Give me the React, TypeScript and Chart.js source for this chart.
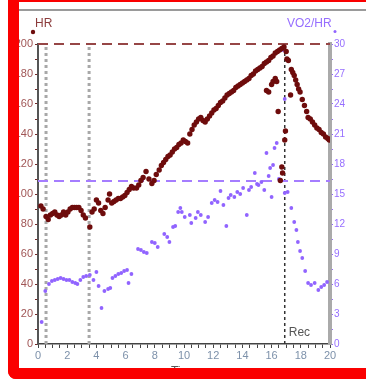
import React, { useEffect, useRef } from "react";
import { Chart, registerables } from "chart.js";

Chart.register(...registerables);

// Heart rate (bpm) over time (min)
const hrTimes = [
  0.2, 0.35, 0.55, 0.7, 0.85, 1.0, 1.15, 1.3, 1.45, 1.6, 1.75, 1.9, 2.05, 2.2, 2.35, 2.5, 2.65, 2.8, 2.95, 3.1,
  3.25, 3.55, 3.7, 3.85, 4.0, 4.15, 4.3, 4.45, 4.6, 4.8, 4.9, 5.05, 5.2, 5.35, 5.5, 5.65, 5.8, 5.95, 6.1, 6.25,
  6.4, 6.55, 6.75, 6.9, 7.05, 7.2, 7.4, 7.6, 7.8, 7.95, 8.1, 8.3, 8.45, 8.6, 8.75, 8.9, 9.05, 9.2, 9.35, 9.5,
  9.65, 9.8, 9.95, 10.1, 10.25, 10.4, 10.55, 10.7, 10.85, 11.0, 11.15, 11.3, 11.45, 11.6, 11.75, 11.9, 12.05, 12.2, 12.35, 12.5,
  12.65, 12.8, 12.95, 13.1, 13.25, 13.4, 13.55, 13.7, 13.85, 14.0, 14.15, 14.3, 14.45, 14.6, 14.75, 14.9, 15.05, 15.2, 15.35, 15.5,
  15.65, 15.8, 15.95, 16.1, 16.25, 16.4, 16.55, 16.7, 16.85,
  15.65, 15.8, 16.0, 16.1, 16.25, 16.35, 16.45, 16.6, 16.7, 16.75, 16.9, 16.95, 17.0, 17.05, 17.15, 17.3,
  17.35, 17.45, 17.55, 17.65, 17.75, 17.85, 17.95, 18.1, 18.25, 18.4, 18.5, 18.65, 18.8, 18.95, 19.1, 19.25, 19.4, 19.55, 19.7, 19.85, 19.95,
];
const hrValues = [
  92, 90, 85, 83, 86, 87, 88, 86, 85, 86, 88, 86, 88, 90, 91, 91, 91, 91, 89, 86,
  84, 78, 88, 90, 96, 94, 89, 87, 91, 96, 100, 94, 95, 96, 97, 97, 98, 99, 101, 103,
  105, 104, 104, 106, 109, 111, 115, 110, 107, 109, 113, 116, 119, 121, 123, 125, 126, 128, 130, 131,
  133, 134, 136, 135, 134, 140, 143, 146, 148, 150, 151, 149, 148, 150, 152, 154, 156, 157, 159, 161,
  162, 164, 166, 167, 168, 169, 171, 172, 173, 174, 175, 176, 177, 179, 180, 182, 183, 184, 185, 187,
  188, 189, 191, 192, 194, 195, 196, 197, 198,
  169, 168, 173, 175, 177, 175, 155, 109, 118, 114, 136, 142, 195, 190, 189, 166,
  183, 181, 179, 176, 173, 170, 168, 163, 159, 155, 151, 150, 148, 146, 144, 143, 141, 140, 138, 137, 136,
];

// Oxygen pulse VO2/HR (ml/beat) over time (min)
const o2Times = [
  0.25, 0.5, 0.75, 0.95, 1.15, 1.35, 1.55, 1.75, 1.95, 2.15, 2.35, 2.55, 2.7, 2.9, 3.1, 3.3, 3.55, 3.8, 4.0, 4.15,
  4.35, 4.55, 4.8, 4.95, 5.1, 5.3, 5.5, 5.7, 5.9, 6.1, 6.2, 6.4, 6.85, 7.05, 7.25, 7.45, 7.8, 8.0, 8.2, 8.65,
  8.85, 9.0, 9.25, 9.4, 9.6, 9.75, 9.85, 10.05, 10.4, 10.5, 10.8, 10.95, 11.15, 11.45, 11.65, 11.9, 12.1, 12.3, 12.5, 12.7,
  12.9, 13.05, 13.2, 13.45, 13.65, 13.85, 14.05, 14.3, 14.45, 14.6, 14.85, 15.0, 15.1, 15.3, 15.5, 15.65, 15.8, 15.9, 16.0, 16.1,
  16.2, 16.35, 16.5, 16.8, 16.9, 16.9, 17.1, 17.35, 17.55, 17.7, 17.8, 17.95, 18.1, 18.3, 18.5, 18.7, 18.95, 19.2, 19.4, 19.6, 19.8,
];
const o2Values = [
  2.2, 5.3, 6.0, 6.3, 6.4, 6.5, 6.6, 6.5, 6.4, 6.4, 6.2, 6.1, 6.0, 6.4, 6.7, 6.8, 6.9, 6.4, 7.2, 5.8,
  3.6, 5.3, 5.5, 5.6, 6.6, 6.8, 7.0, 7.1, 7.3, 7.4, 6.1, 7.0, 9.5, 9.4, 9.2, 9.1, 10.2, 10.1, 9.7, 11.0,
  10.7, 10.2, 11.7, 11.8, 13.2, 13.6, 13.2, 12.7, 12.9, 12.1, 12.6, 13.2, 12.9, 12.2, 12.7, 14.1, 14.4, 14.2, 15.3, 13.9,
  11.8, 14.6, 14.9, 14.7, 15.2, 15.0, 15.6, 12.9, 15.4, 15.7, 17.1, 16.0, 15.9, 16.2, 15.4, 19.1, 16.8, 17.6, 14.7, 17.9,
  19.6, 20.1, 16.5, 29.4, 24.5, 15.1, 15.2, 13.6, 12.2, 11.4, 10.2, 9.3, 8.6, 7.3, 6.1, 5.9, 6.1, 5.4, 5.7, 5.9, 6.2,
];

// Reference values
const hrPredMax = 200;
const o2PulsePred = 16.3;
const phaseTimes = [0.55, 3.5];
const recoveryTime = 16.9;

const xMin = 0, xMax = 20;
const hrMin = 0, hrMax = 200;
const o2Min = 0, o2Max = 30;

const FONT = "'Liberation Sans', Arial, sans-serif";
const MAROON = "rgb(110,12,12)";
const PURPLE = "rgb(145,100,255)";

export default function App() {
  const ref = useRef<HTMLCanvasElement | null>(null);

  useEffect(() => {
    document.body.style.margin = "0";
    const canvas = ref.current;
    if (!canvas) return;

    const labelsPlugin = {
      id: "labels",
      afterDraw(chart: any) {
        const ctx = chart.ctx;
        const xs = chart.scales.x;
        const ys = chart.scales.y;
        ctx.save();
        ctx.font = `12px ${FONT}`;
        ctx.textBaseline = "alphabetic";
        ctx.textAlign = "left";
        ctx.fillStyle = "rgb(140,60,60)";
        ctx.fillText("HR", 35, 27);
        ctx.fillStyle = "rgb(150,110,255)";
        ctx.fillText("VO2/HR", 287, 27);
        ctx.fillStyle = MAROON;
        ctx.beginPath();
        ctx.arc(33, 32, 2.2, 0, Math.PI * 2);
        ctx.fill();
        ctx.fillStyle = PURPLE;
        ctx.beginPath();
        ctx.arc(335, 31.5, 1.5, 0, Math.PI * 2);
        ctx.fill();
        // Recovery label
        ctx.fillStyle = "#555";
        ctx.fillText("Rec", xs.getPixelForValue(recoveryTime) + 4, ys.getPixelForValue(hrMin) - 8);
        // x title (mostly hidden behind the frame)
        ctx.textAlign = "center";
        ctx.textBaseline = "top";
        ctx.fillStyle = "#555";
        ctx.fillText("Time", (chart.chartArea.left + chart.chartArea.right) / 2, 366);
        ctx.restore();
      },
    };

    const vline = (t: number, color: string, width: number, dash: number[]) => ({
      type: "line" as const,
      data: [
        { x: t, y: hrMin },
        { x: t, y: hrMax },
      ],
      yAxisID: "y",
      borderColor: color,
      borderWidth: width,
      borderDash: dash,
      pointRadius: 0,
      showLine: true,
      fill: false,
      clip: false as any,
    });

    const chart = new Chart(canvas, {
      type: "scatter",
      data: {
        datasets: [
          {
            label: "HR",
            data: hrTimes.map((t, i) => ({ x: t, y: hrValues[i] })),
            yAxisID: "y",
            backgroundColor: MAROON,
            borderColor: MAROON,
            pointRadius: 2.7,
            pointBorderWidth: 0,
          },
          {
            label: "VO2/HR",
            data: o2Times.map((t, i) => ({ x: t, y: o2Values[i] })),
            yAxisID: "y2",
            backgroundColor: PURPLE,
            borderColor: PURPLE,
            pointRadius: 1.9,
            pointBorderWidth: 0,
          },
          {
            type: "line",
            data: [
              { x: xMin, y: hrPredMax },
              { x: xMax, y: hrPredMax },
            ],
            yAxisID: "y",
            borderColor: "rgb(150,70,70)",
            borderWidth: 2,
            borderDash: [10, 6],
            pointRadius: 0,
            showLine: true,
            clip: false as any,
          } as any,
          {
            type: "line",
            data: [
              { x: xMin, y: o2PulsePred },
              { x: xMax, y: o2PulsePred },
            ],
            yAxisID: "y2",
            borderColor: "rgb(165,125,255)",
            borderWidth: 2,
            borderDash: [10, 6],
            pointRadius: 0,
            showLine: true,
          } as any,
          ...phaseTimes.map((t) => vline(t, "#a8a8a8", 3, [3, 3]) as any),
          vline(recoveryTime, "#333", 1.5, [3, 3]) as any,
        ],
      },
      options: {
        responsive: false,
        animation: false,
        devicePixelRatio: 1,
        layout: { padding: { top: 44, left: 0, right: 0, bottom: 0 } },
        plugins: { legend: { display: false }, tooltip: { enabled: false }, title: { display: false } },
        scales: {
          x: {
            type: "linear",
            min: xMin,
            max: xMax,
            afterFit: (s: any) => {
              s.height = 37;
            },
            ticks: {
              stepSize: 0.5,
              autoSkip: false,
              maxRotation: 0,
              padding: 1,
              color: "rgb(125,145,170)",
              font: { family: FONT, size: 11 },
              callback: (v: any) => (Number(v) % 2 === 0 ? String(v) : ""),
            },
            grid: { drawOnChartArea: false, tickLength: 4, color: "#444" },
            border: { color: "#444", width: 1.5 },
          },
          y: {
            position: "left",
            min: hrMin,
            max: hrMax,
            afterFit: (s: any) => {
              s.width = 38;
            },
            ticks: {
              stepSize: 10,
              autoSkip: false,
              padding: 2,
              color: "rgb(160,85,85)",
              font: { family: FONT, size: 11 },
              callback: (v: any) => (Number(v) % 20 === 0 ? String(v) : ""),
            },
            grid: { drawOnChartArea: false, tickLength: 3, color: "rgb(120,40,40)" },
            border: { color: "#555", width: 2 },
          },
          y2: {
            position: "right",
            min: o2Min,
            max: o2Max,
            afterFit: (s: any) => {
              s.width = 36;
            },
            ticks: {
              stepSize: 1.5,
              autoSkip: false,
              padding: 1,
              color: "rgb(150,110,255)",
              font: { family: FONT, size: 10 },
              callback: (v: any) => (Math.abs(Number(v) % 3) < 1e-6 ? String(v) : ""),
            },
            grid: { drawOnChartArea: false, tickLength: 3, color: PURPLE },
            border: { color: "#aaa", width: 4 },
          },
        },
      } as any,
      plugins: [labelsPlugin],
    });

    return () => chart.destroy();
  }, []);

  const red = "rgb(250,0,0)";
  return (
    <div style={{ position: "fixed", left: 0, top: 0, width: 366, height: 381, background: "#fff", overflow: "hidden" }}>
      <canvas ref={ref} width={366} height={381} style={{ position: "absolute", left: 0, top: 0, width: 366, height: 381 }} />
      <div style={{ position: "absolute", left: 8, top: 0, width: 358, height: 2, background: red }} />
      <div style={{ position: "absolute", left: 19, top: 9, width: 347, height: 2, background: "#9a9a9a" }} />
      <div style={{ position: "absolute", left: 8, top: 0, width: 11, height: 379, background: red, borderBottomLeftRadius: 8 }} />
      <div style={{ position: "absolute", left: 8, top: 368, width: 358, height: 11, background: red, borderBottomLeftRadius: 8 }} />
    </div>
  );
}
